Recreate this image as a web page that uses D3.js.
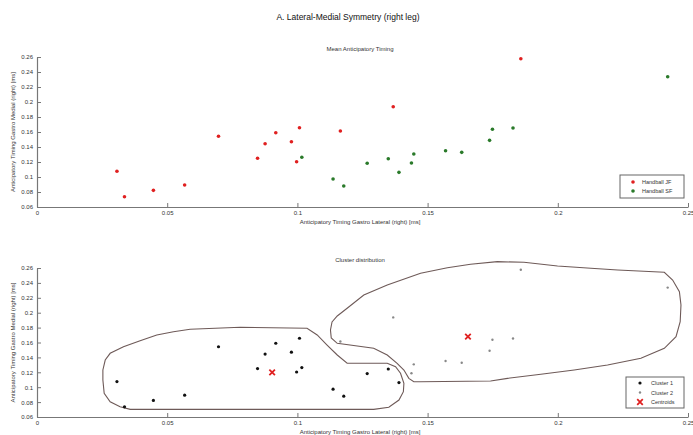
<!DOCTYPE html>
<html>
<head>
<meta charset="utf-8">
<script src="https://cdn.jsdelivr.net/npm/d3@7"></script>
<style>
  body { margin: 0; background: #fff; }
  svg { font-family: "Liberation Sans", Arial, sans-serif; }
</style>
</head>
<body>
<div id="chart"></div>
<script>
// Data
const jfX = [0.0307, 0.0336, 0.0447, 0.0567, 0.0697, 0.0847, 0.0876, 0.0917, 0.0977, 0.1008, 0.0997, 0.1165, 0.1368, 0.1858];
const jfY = [0.1076, 0.0737, 0.0822, 0.0893, 0.1543, 0.1250, 0.1444, 0.1590, 0.1470, 0.1657, 0.1204, 0.1613, 0.1937, 0.2577];
const sfX = [0.1017, 0.1137, 0.1178, 0.1268, 0.1349, 0.1390, 0.1438, 0.1447, 0.1569, 0.1631, 0.1738, 0.1749, 0.1828, 0.2422];
const sfY = [0.1263, 0.0973, 0.0880, 0.1183, 0.1244, 0.1062, 0.1187, 0.1307, 0.1351, 0.1329, 0.1489, 0.1636, 0.1653, 0.2337];

const c1X = [0.0307, 0.0336, 0.0447, 0.0567, 0.0697, 0.0847, 0.0876, 0.0917, 0.0977, 0.1008, 0.0997, 0.1017, 0.1137, 0.1178, 0.1268, 0.1349, 0.1390];
const c1Y = [0.1076, 0.0737, 0.0822, 0.0893, 0.1543, 0.1250, 0.1444, 0.1590, 0.1470, 0.1657, 0.1204, 0.1263, 0.0973, 0.0880, 0.1183, 0.1244, 0.1062];
const c2X = [0.1165, 0.1368, 0.1858, 0.1438, 0.1447, 0.1569, 0.1631, 0.1738, 0.1749, 0.1828, 0.2422];
const c2Y = [0.1613, 0.1937, 0.2577, 0.1187, 0.1307, 0.1351, 0.1329, 0.1489, 0.1636, 0.1653, 0.2337];
const centX = [0.0903, 0.1655];
const centY = [0.1200, 0.1678];

// cluster outlines
const hull1X = [0.0253, 0.0253, 0.0262, 0.0281, 0.0332, 0.0396, 0.0460, 0.0524, 0.0588, 0.0781, 0.1037, 0.1076, 0.1114, 0.1153, 0.1191, 0.1345, 0.1377, 0.1396, 0.1409, 0.1407, 0.1390, 0.1351, 0.1293, 0.0819, 0.0358, 0.0319, 0.0281, 0.0258];
const hull1Y = [0.1097, 0.1231, 0.1365, 0.1455, 0.1544, 0.1624, 0.1701, 0.1745, 0.1777, 0.1804, 0.1791, 0.1701, 0.1566, 0.1432, 0.1321, 0.1321, 0.1275, 0.1187, 0.1052, 0.0940, 0.0828, 0.0730, 0.0703, 0.0703, 0.0703, 0.0738, 0.0805, 0.0918];
const hull2X = [0.1130, 0.1127, 0.1133, 0.1153, 0.1191, 0.1255, 0.1345, 0.1473, 0.1576, 0.1665, 0.1768, 0.1870, 0.1999, 0.2127, 0.2230, 0.2409, 0.2441, 0.2467, 0.2473, 0.2470, 0.2454, 0.2409, 0.2319, 0.2191, 0.2063, 0.1935, 0.1807, 0.1742, 0.1473, 0.1447, 0.1428, 0.1409, 0.1383, 0.1345, 0.1293, 0.1153];
const hull2Y = [0.1660, 0.1768, 0.1875, 0.1956, 0.2059, 0.2238, 0.2372, 0.2529, 0.2604, 0.2650, 0.2685, 0.2677, 0.2627, 0.2596, 0.2573, 0.2542, 0.2439, 0.2282, 0.2103, 0.1879, 0.1678, 0.1522, 0.1388, 0.1298, 0.1231, 0.1173, 0.1119, 0.1083, 0.1074, 0.1074, 0.1119, 0.1231, 0.1321, 0.1432, 0.1522, 0.1589];

const xTicks = [0, 0.05, 0.1, 0.15, 0.2, 0.25];
const yTicks = [0.06, 0.08, 0.1, 0.12, 0.14, 0.16, 0.18, 0.2, 0.22, 0.24, 0.26];

const W = 693, H = 435;
const left = 37, right = 688;
const fmt = d3.format("~g");
const zip = (a, b) => a.map((v, i) => [v, b[i]]);

const svg = d3.select("#chart").append("svg")
  .attr("width", W).attr("height", H);

svg.append("text")
  .attr("x", 348).attr("y", 20)
  .attr("text-anchor", "middle")
  .style("font-size", "8.5px").style("fill", "#111")
  .text("A. Lateral-Medial Symmetry (right leg)");

// draw one panel, returns scales
function panel(top, bottom, title) {
  const x = d3.scaleLinear().domain([0, 0.25]).range([left, right]);
  const y = d3.scaleLinear().domain([0.06, 0.26]).range([bottom, top]);

  const xa = svg.append("g")
    .attr("transform", "translate(0," + bottom + ")")
    .call(d3.axisBottom(x).tickValues(xTicks).tickFormat(fmt).tickSizeInner(-4).tickSizeOuter(0).tickPadding(4));
  const ya = svg.append("g")
    .attr("transform", "translate(" + left + ",0)")
    .call(d3.axisLeft(y).tickValues(yTicks).tickFormat(fmt).tickSizeInner(-4).tickSizeOuter(0).tickPadding(4));
  [xa, ya].forEach(a => {
    a.select(".domain").attr("stroke", "#777").attr("stroke-width", 1.2);
    a.selectAll(".tick line").attr("stroke", "#777");
    a.selectAll("text").style("font-size", "6px").style("fill", "#333")
      .style("font-family", "'Liberation Sans', Arial, sans-serif");
  });
  xa.select(".tick line").remove();

  svg.append("text")
    .attr("x", 360).attr("y", top - 6)
    .attr("text-anchor", "middle")
    .style("font-size", "6px").style("fill", "#333")
    .text(title);
  svg.append("text")
    .attr("x", 360).attr("y", bottom + 17)
    .attr("text-anchor", "middle")
    .style("font-size", "6px").style("fill", "#333")
    .text("Anticipatory Timing Gastro Lateral (right) [ms]");
  svg.append("text")
    .attr("transform", "translate(15," + ((top + bottom) / 2) + ") rotate(-90)")
    .attr("text-anchor", "middle")
    .style("font-size", "6px").style("fill", "#333")
    .text("Anticipatory Timing Gastro Medial (right) [ms]");
  return { x, y };
}

// Top: mean anticipatory timing
const p1 = panel(57, 207, "Mean Anticipatory Timing");

svg.append("g").selectAll("circle")
  .data(zip(jfX, jfY)).enter()
  .append("circle")
  .attr("cx", d => p1.x(d[0])).attr("cy", d => p1.y(d[1]))
  .attr("r", 1.8).style("fill", "#e02020");

svg.append("g").selectAll("circle")
  .data(zip(sfX, sfY)).enter()
  .append("circle")
  .attr("cx", d => p1.x(d[0])).attr("cy", d => p1.y(d[1]))
  .attr("r", 1.8).style("fill", "#2a7a2a");

// legend top
const lg1 = svg.append("g").attr("transform", "translate(620,175)");
lg1.append("rect").attr("width", 64).attr("height", 23)
  .attr("fill", "#fff").attr("stroke", "#666").attr("stroke-width", 1);
[["Handball JF", "#e02020"], ["Handball SF", "#2a7a2a"]].forEach((e, i) => {
  lg1.append("circle").attr("cx", 13).attr("cy", 7 + i * 9).attr("r", 1.8).style("fill", e[1]);
  lg1.append("text").attr("x", 22).attr("y", 9 + i * 9)
    .style("font-size", "5.5px").style("fill", "#333").text(e[0]);
});

// Bottom: cluster distribution
const p2 = panel(268, 417, "Cluster distribution");

const line = d3.line()
  .x(d => p2.x(d[0])).y(d => p2.y(d[1]))
  .curve(d3.curveLinearClosed);

svg.append("path").datum(zip(hull1X, hull1Y))
  .attr("d", line).attr("fill", "none")
  .attr("stroke", "#6e5a58").attr("stroke-width", 1.1);
svg.append("path").datum(zip(hull2X, hull2Y))
  .attr("d", line).attr("fill", "none")
  .attr("stroke", "#6e5a58").attr("stroke-width", 1.1);

svg.append("g").selectAll("circle")
  .data(zip(c1X, c1Y)).enter()
  .append("circle")
  .attr("cx", d => p2.x(d[0])).attr("cy", d => p2.y(d[1]))
  .attr("r", 1.6).style("fill", "#111");

svg.append("g").selectAll("circle")
  .data(zip(c2X, c2Y)).enter()
  .append("circle")
  .attr("cx", d => p2.x(d[0])).attr("cy", d => p2.y(d[1]))
  .attr("r", 1.2).style("fill", "#888");

const cross = d3.symbol().type(d3.symbolX).size(22);
svg.append("g").selectAll("path")
  .data(zip(centX, centY)).enter()
  .append("path")
  .attr("transform", d => "translate(" + p2.x(d[0]) + "," + p2.y(d[1]) + ")")
  .attr("d", cross).attr("stroke", "#e02020").attr("stroke-width", 1.8).attr("fill", "none");

// legend bottom
const lg2 = svg.append("g").attr("transform", "translate(626,377)");
lg2.append("rect").attr("width", 58).attr("height", 31)
  .attr("fill", "#fff").attr("stroke", "#666").attr("stroke-width", 1);
lg2.append("circle").attr("cx", 14).attr("cy", 6).attr("r", 1.6).style("fill", "#111");
lg2.append("circle").attr("cx", 14).attr("cy", 15.5).attr("r", 1.2).style("fill", "#888");
lg2.append("path").attr("transform", "translate(14,25)")
  .attr("d", cross).attr("stroke", "#e02020").attr("stroke-width", 1.8).attr("fill", "none");
["Cluster 1", "Cluster 2", "Centroids"].forEach((t, i) => {
  lg2.append("text").attr("x", 25).attr("y", 8 + i * 9.5)
    .style("font-size", "5.5px").style("fill", "#333").text(t);
});
</script>
</body>
</html>
